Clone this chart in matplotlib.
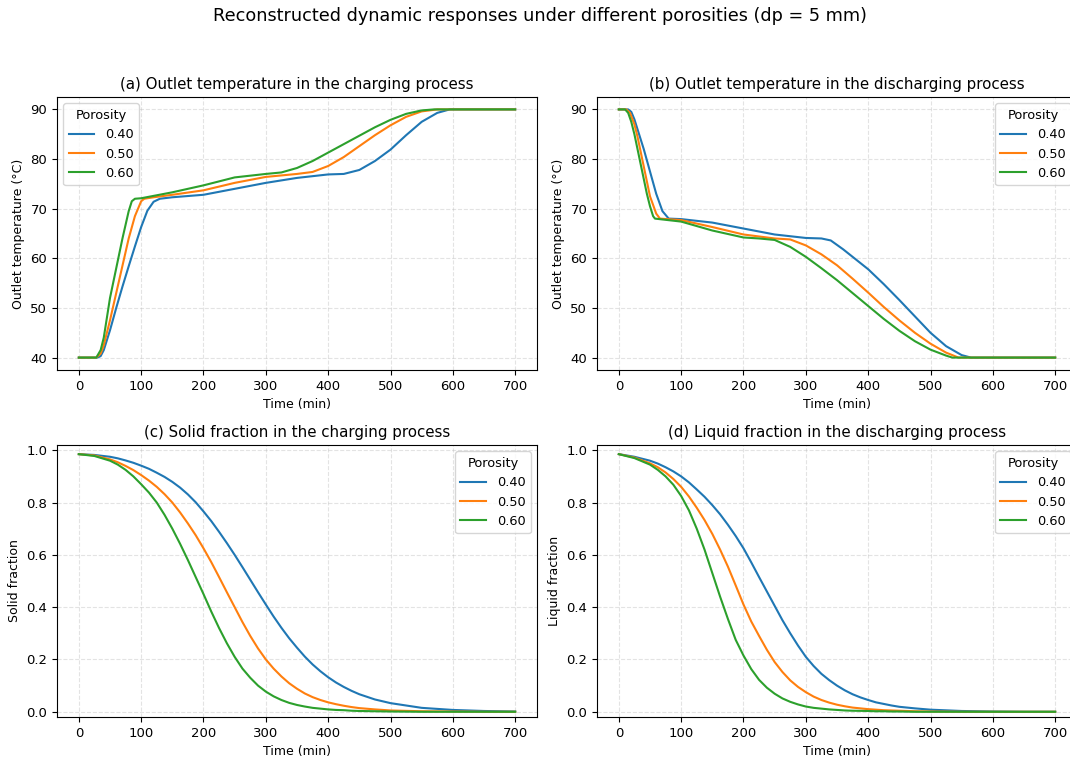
import matplotlib
matplotlib.use('Agg')
import matplotlib.pyplot as plt

porosities = ['0.40', '0.50', '0.60']
colors = ['#1f77b4', '#ff7f0e', '#2ca02c']

# (a) outlet temperature, charging
t_a_040 = [0, 30, 35, 40, 50, 60, 70, 80, 90, 100, 110, 120, 130, 150, 200, 250, 300, 350, 400, 425,
           450, 475, 500, 525, 550, 575, 595, 700]
T_a_040 = [40, 40, 40.3, 41.5, 45.5, 50.0, 54.3, 58.4, 62.4, 66.3, 69.6, 71.4, 72.0, 72.3, 72.8, 74.0,
           75.2, 76.2, 76.9, 77.0, 77.8, 79.6, 81.9, 84.8, 87.5, 89.3, 90, 90]
t_a_050 = [0, 28, 35, 40, 50, 60, 70, 80, 90, 100, 105, 120, 150, 200, 250, 300, 350, 375, 400, 425,
           450, 475, 500, 525, 550, 575, 700]
T_a_050 = [40, 40, 40.8, 42.5, 47.5, 53.0, 58.5, 64.0, 68.5, 71.5, 72.0, 72.3, 72.8, 73.7, 75.2, 76.4,
           77.0, 77.4, 78.6, 80.4, 82.6, 84.8, 86.8, 88.5, 89.6, 90, 90]
t_a_060 = [0, 28, 35, 40, 50, 60, 70, 80, 85, 90, 100, 150, 200, 250, 300, 325, 350, 375, 400, 425,
           450, 475, 500, 525, 550, 570, 700]
T_a_060 = [40, 40, 41.5, 44.0, 52.0, 58.0, 64.0, 69.5, 71.5, 72.0, 72.1, 73.3, 74.7, 76.3, 77.0, 77.3,
           78.2, 79.6, 81.3, 83.0, 84.7, 86.4, 87.9, 89.1, 89.8, 90, 90]

# (b) outlet temperature, discharging
t_b_040 = [0, 15, 20, 25, 30, 40, 50, 60, 70, 80, 100, 150, 200, 250, 300, 325, 340, 360, 380, 400,
           425, 450, 475, 500, 525, 550, 565, 700]
T_b_040 = [90, 90, 89.5, 88.0, 86.0, 82.0, 77.5, 73.0, 69.5, 68.0, 67.9, 67.2, 66.0, 64.8, 64.1, 64.0,
           63.6, 61.8, 59.8, 57.8, 54.8, 51.6, 48.3, 45.0, 42.3, 40.5, 40, 40]
t_b_050 = [0, 12, 18, 25, 30, 40, 50, 60, 66, 100, 150, 200, 250, 275, 300, 325, 350, 375, 400, 425,
           450, 475, 500, 525, 545, 700]
T_b_050 = [90, 90, 89.3, 87.0, 84.5, 78.5, 72.5, 69.0, 68.0, 67.7, 66.3, 64.8, 64.0, 63.8, 62.6, 60.8,
           58.6, 55.9, 53.1, 50.2, 47.5, 45.0, 42.8, 41.0, 40, 40]
t_b_060 = [0, 10, 15, 20, 25, 30, 35, 40, 45, 50, 55, 58, 100, 150, 200, 225, 250, 275, 300, 325, 350,
           375, 400, 425, 450, 475, 500, 525, 535, 700]
T_b_060 = [90, 90, 89.3, 87.5, 85.0, 82.0, 79.0, 76.0, 73.0, 70.5, 68.5, 68.0, 67.4, 65.6, 64.2, 64.0,
           63.7, 62.3, 60.3, 58.0, 55.6, 53.0, 50.4, 47.8, 45.4, 43.3, 41.6, 40.4, 40, 40]

# time grid shared by the phase-fraction curves
t_frac = [0, 25, 50, 62.5, 75, 87.5, 100, 112.5, 125, 137.5, 150, 162.5, 175, 187.5, 200, 212.5,
          225, 237.5, 250, 262.5, 275, 287.5, 300, 312.5, 325, 337.5, 350, 362.5, 375, 387.5, 400,
          412.5, 425, 437.5, 450, 475, 500, 550, 600, 650, 700]

# (c) solid fraction, charging
s_c_040 = [0.985, 0.982, 0.975, 0.969, 0.961, 0.952, 0.941, 0.929, 0.914, 0.898, 0.879, 0.857, 0.831,
           0.801, 0.766, 0.729, 0.688, 0.645, 0.600, 0.553, 0.505, 0.457, 0.410, 0.364, 0.321, 0.281,
           0.245, 0.211, 0.181, 0.155, 0.132, 0.112, 0.095, 0.080, 0.067, 0.047, 0.033, 0.015, 0.007,
           0.003, 0.001]
s_c_050 = [0.985, 0.980, 0.965, 0.954, 0.940, 0.924, 0.905, 0.884, 0.860, 0.832, 0.800, 0.762, 0.720,
           0.675, 0.625, 0.572, 0.515, 0.457, 0.400, 0.343, 0.290, 0.242, 0.200, 0.165, 0.135, 0.109,
           0.088, 0.070, 0.056, 0.045, 0.036, 0.029, 0.023, 0.018, 0.014, 0.009, 0.005, 0.002, 0.001,
           0.0, 0.0]
s_c_060 = [0.985, 0.978, 0.960, 0.945, 0.925, 0.900, 0.870, 0.838, 0.800, 0.753, 0.700, 0.642, 0.580,
           0.515, 0.450, 0.383, 0.320, 0.262, 0.210, 0.165, 0.130, 0.100, 0.077, 0.059, 0.045, 0.034,
           0.026, 0.020, 0.015, 0.012, 0.009, 0.007, 0.006, 0.004, 0.003, 0.002, 0.001, 0.0, 0.0,
           0.0, 0.0]

# (d) liquid fraction, discharging
l_d_040 = [0.985, 0.975, 0.960, 0.949, 0.935, 0.919, 0.900, 0.877, 0.850, 0.822, 0.790, 0.755, 0.715,
           0.672, 0.625, 0.571, 0.515, 0.460, 0.405, 0.350, 0.300, 0.253, 0.210, 0.175, 0.145, 0.121,
           0.100, 0.082, 0.067, 0.055, 0.045, 0.036, 0.030, 0.024, 0.019, 0.013, 0.008, 0.003, 0.001,
           0.0, 0.0]
l_d_050 = [0.985, 0.972, 0.950, 0.935, 0.915, 0.890, 0.860, 0.823, 0.780, 0.733, 0.680, 0.620, 0.555,
           0.483, 0.410, 0.345, 0.290, 0.237, 0.190, 0.152, 0.120, 0.095, 0.075, 0.058, 0.045, 0.035,
           0.027, 0.021, 0.016, 0.013, 0.010, 0.008, 0.006, 0.005, 0.004, 0.002, 0.001, 0.0, 0.0,
           0.0, 0.0]
l_d_060 = [0.985, 0.970, 0.945, 0.925, 0.900, 0.868, 0.825, 0.770, 0.700, 0.620, 0.530, 0.440, 0.355,
           0.275, 0.215, 0.163, 0.122, 0.092, 0.069, 0.051, 0.038, 0.028, 0.020, 0.015, 0.012, 0.009,
           0.007, 0.005, 0.004, 0.0035, 0.003, 0.002, 0.002, 0.001, 0.001, 0.0, 0.0, 0.0, 0.0,
           0.0, 0.0]

fig = plt.figure(figsize=(10.7, 7.57), dpi=100)
W, H = 1070, 757

def add_axes(x0, y0, x1, y1):
    # pixel box (left, top, right, bottom) -> figure fraction
    return fig.add_axes([x0 / W, 1 - y1 / H, (x1 - x0) / W, (y1 - y0) / H])

ax_a = add_axes(57, 97, 537, 370)
ax_b = add_axes(597, 97, 1077, 370)
ax_c = add_axes(57, 445, 537, 717)
ax_d = add_axes(597, 445, 1077, 717)

panels = [
    (ax_a, [(t_a_040, T_a_040), (t_a_050, T_a_050), (t_a_060, T_a_060)],
     '(a) Outlet temperature in the charging process', 'Outlet temperature (°C)', 'upper left'),
    (ax_b, [(t_b_040, T_b_040), (t_b_050, T_b_050), (t_b_060, T_b_060)],
     '(b) Outlet temperature in the discharging process', 'Outlet temperature (°C)', 'upper right'),
    (ax_c, [(t_frac, s_c_040), (t_frac, s_c_050), (t_frac, s_c_060)],
     '(c) Solid fraction in the charging process', 'Solid fraction', 'upper right'),
    (ax_d, [(t_frac, l_d_040), (t_frac, l_d_050), (t_frac, l_d_060)],
     '(d) Liquid fraction in the discharging process', 'Liquid fraction', 'upper right'),
]

for ax, series, title, ylabel, loc in panels:
    for (x, y), lab, c in zip(series, porosities, colors):
        ax.plot(x, y, color=c, lw=1.5, label=lab)
    ax.set_title(title, fontsize=10.8)
    ax.set_xlabel('Time (min)', fontsize=9)
    ax.set_ylabel(ylabel, fontsize=9)
    ax.set_xticks(range(0, 701, 100))
    ax.tick_params(labelsize=9.5)
    ax.grid(True, linestyle='--', alpha=0.35)
    ax.legend(title='Porosity', loc=loc, fontsize=9.3, title_fontsize=9.3)

for ax in (ax_c, ax_d):
    ax.set_ylim(-0.02, 1.02)

fig.suptitle('Reconstructed dynamic responses under different porosities (dp = 5 mm)',
             x=540 / W, y=1 - 16 / H, va='center', fontsize=12.7)

plt.savefig('out.png', dpi=100)
